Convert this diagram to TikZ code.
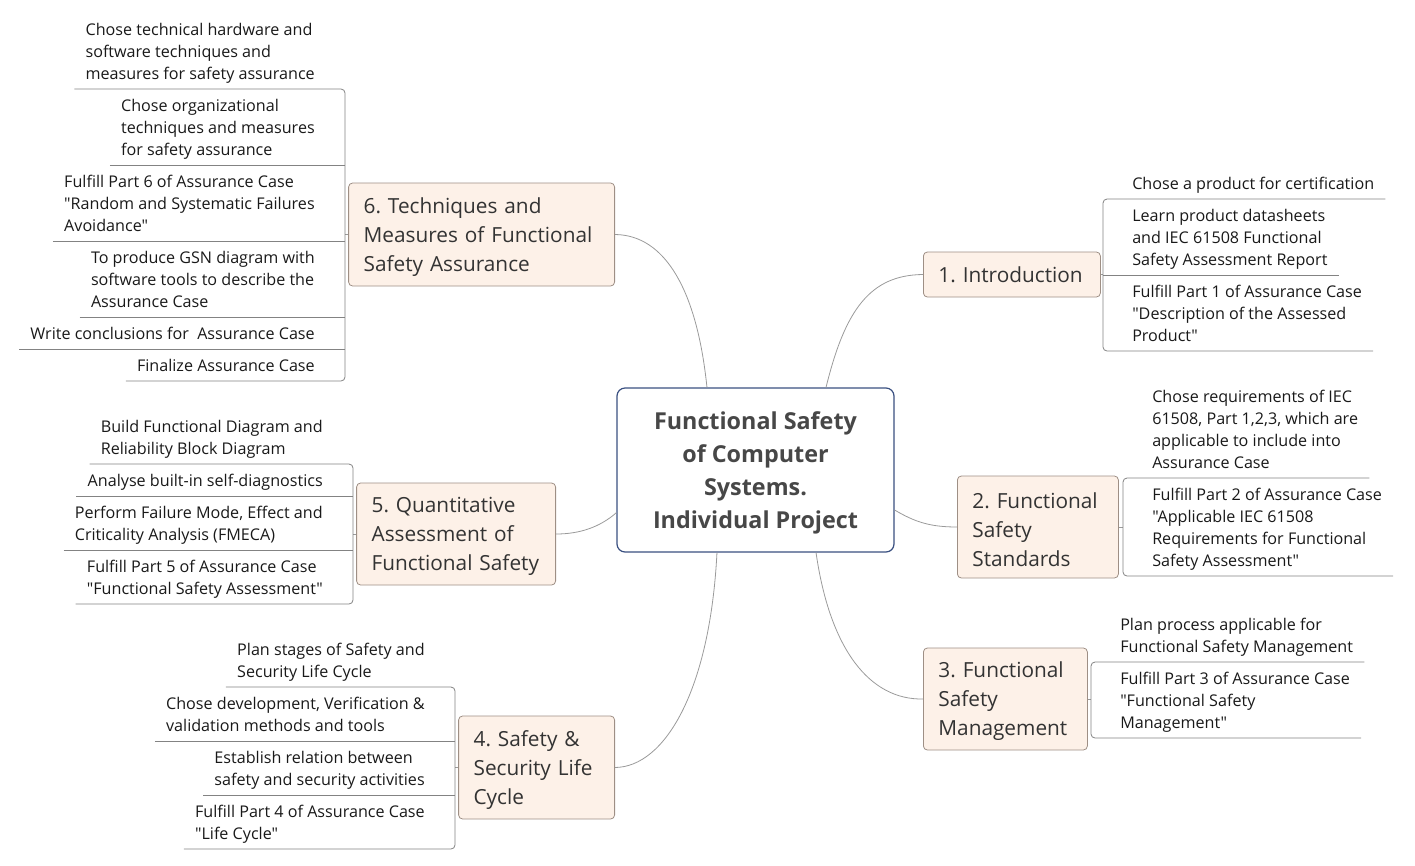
\documentclass[tikz,border=0pt]{standalone}
\usepackage{fontspec}
\newfontfamily\mapfont{Open Sans}
\usepackage{tikz}
\definecolor{hubline}{HTML}{3A5081}
\definecolor{topicfill}{HTML}{FDF1E8}
\definecolor{topicline}{HTML}{9E8F85}
\definecolor{wire}{HTML}{9A9A9A}
\definecolor{ink}{HTML}{333333}
\tikzset{
hub/.style={draw=hubline, line width=0.9pt, rounded corners=6pt, fill=white, align=center, minimum width=207.75pt, minimum height=123pt, text depth=0pt, text=ink!90, font=\mapfont\frenchspacing\fontsize{17.5}{24.75}\selectfont\bfseries},
topic/.style={draw=topicline, fill=topicfill, line width=0.6pt, rounded corners=3pt, align=left, inner xsep=11.25pt, inner ysep=0pt, text=ink, font=\mapfont\frenchspacing\fontsize{15.6}{21.75}\selectfont},
tall/.style={text height=15.4pt},
subr/.style={anchor=south west, align=left, inner xsep=8.25pt, inner ysep=3pt, text depth=3.9pt, text=black!90, font=\mapfont\frenchspacing\fontsize{12.1}{16.5}\selectfont},
subl/.style={subr, anchor=south east},
limb/.style={draw=wire, line width=0.6pt},
twig/.style={draw=wire!85!black, line width=0.6pt, rounded corners=3pt}
}
\begin{document}
\begin{tikzpicture}[x=0.75pt,y=-0.75pt]
\useasboundingbox (0,0) rectangle (1415,865);
\node[hub] (hub) at (755.5,470) {Functional Safety\\of Computer\\Systems.\\Individual Project};

\node[topic, anchor=west, text width=110.25pt, minimum height=33.75pt] (b1) at (923,274.5) {1. Introduction};
\node[topic, tall, anchor=west, text width=98.25pt, minimum height=76.5pt] (b2) at (957,527) {2. Functional\\Safety\\Standards};
\node[topic, tall, anchor=west, text width=100.5pt, minimum height=76.5pt] (b3) at (923,699) {3. Functional\\Safety\\Management};
\node[topic, tall, anchor=east, text width=94.5pt, minimum height=77.25pt] (b4) at (615,767.5) {4. Safety \&\\Security Life\\Cycle};
\node[topic, tall, anchor=east, text width=126.75pt, minimum height=76.5pt] (b5) at (556,534) {5. Quantitative\\Assessment of\\Functional Safety};
\node[topic, tall, anchor=east, text width=177pt, minimum height=77.25pt] (b6) at (615,234.5) {6. Techniques and\\Measures of Functional\\Safety Assurance};

\draw[limb] ([xshift=-36.4pt]hub.north) .. controls (697,290) and (665,235) .. (b6.east);
\draw[limb] ([xshift=52.9pt]hub.north) .. controls (845,310) and (870,275) .. (b1.west);
\draw[limb] ([yshift=-30pt]hub.east) .. controls (915,522) and (930,527) .. (b2.west);
\draw[limb] ([xshift=45.4pt]hub.south) .. controls (830,650) and (870,700) .. (b3.west);
\draw[limb] ([xshift=-28.9pt]hub.south) .. controls (710,690) and (665,767) .. (b4.east);
\draw[limb] ([yshift=-32pt]hub.west) .. controls (600,527) and (580,534) .. (b5.east);

\node[subr] (t11) at (1121,199) {Chose a product for certification};
\node[subr] (t12) at (1121,275) {Learn product datasheets\\and IEC 61508 Functional\\Safety Assessment Report};
\node[subr] (t13) at (1121,351) {Fulfill Part 1 of Assurance Case\\"Description of the Assessed\\Product"};
\coordinate (k1) at (1103,274.5);
\draw[limb] (b1.east) -- (k1);
\draw[twig] (t11.south east) -- (t11.south west -| k1) -- (t13.south west -| k1) -- (t13.south east);
\draw[twig] (t12.south west -| k1) -- (t12.south east);

\node[subr] (t21) at (1141,478) {Chose requirements of IEC\\61508, Part 1,2,3, which are\\applicable to include into\\Assurance Case};
\node[subr] (t22) at (1141,576) {Fulfill Part 2 of Assurance Case\\"Applicable IEC 61508\\Requirements for Functional\\Safety Assessment"};
\coordinate (k2) at (1123,527);
\draw[limb] (b2.east) -- (k2);
\draw[twig] (t21.south east) -- (t21.south west -| k2) -- (t22.south west -| k2) -- (t22.south east);

\node[subr] (t31) at (1109,662) {Plan process applicable for\\Functional Safety Management};
\node[subr] (t32) at (1109,738) {Fulfill Part 3 of Assurance Case\\"Functional Safety\\Management"};
\coordinate (k3) at (1091,699);
\draw[limb] (b3.east) -- (k3);
\draw[twig] (t31.south east) -- (t31.south west -| k3) -- (t32.south west -| k3) -- (t32.south east);

\node[subl] (t41) at (436,687) {Plan stages of Safety and\\Security Life Cycle};
\node[subl] (t42) at (436,741) {Chose development, Verification \&\\validation methods and tools};
\node[subl] (t43) at (436,795) {Establish relation between\\safety and security activities};
\node[subl] (t44) at (436,849) {Fulfill Part 4 of Assurance Case\\"Life Cycle"};
\coordinate (k4) at (455,767.5);
\draw[limb] (b4.west) -- (k4);
\draw[twig] (t41.south west) -- (t41.south east -| k4) -- (t44.south east -| k4) -- (t44.south west);
\draw[twig] (t42.south west) -- (t42.south east -| k4);
\draw[twig] (t43.south west) -- (t43.south east -| k4);

\node[subl] (t51) at (334,464) {Build Functional Diagram and\\Reliability Block Diagram};
\node[subl] (t52) at (334,496) {Analyse built-in self-diagnostics};
\node[subl] (t53) at (334,550) {Perform Failure Mode, Effect and\\Criticality Analysis (FMECA)};
\node[subl] (t54) at (334,604) {Fulfill Part 5 of Assurance Case\\"Functional Safety Assessment"};
\coordinate (k5) at (353,534);
\draw[limb] (b5.west) -- (k5);
\draw[twig] (t51.south west) -- (t51.south east -| k5) -- (t54.south east -| k5) -- (t54.south west);
\draw[twig] (t52.south west) -- (t52.south east -| k5);
\draw[twig] (t53.south west) -- (t53.south east -| k5);

\node[subl] (t61) at (326,89) {Chose technical hardware and\\software techniques and\\measures for safety assurance};
\node[subl] (t62) at (326,165) {Chose organizational\\techniques and measures\\for safety assurance};
\node[subl] (t63) at (326,241) {Fulfill Part 6 of Assurance Case\\"Random and Systematic Failures\\Avoidance"};
\node[subl] (t64) at (326,317) {To produce GSN diagram with\\software tools to describe the\\Assurance Case};
\node[subl] (t65) at (326,349) {Write conclusions for\ \ Assurance Case};
\node[subl] (t66) at (326,381) {Finalize Assurance Case};
\coordinate (k6) at (345,234.5);
\draw[limb] (b6.west) -- (k6);
\draw[twig] (t61.south west) -- (t61.south east -| k6) -- (t66.south east -| k6) -- (t66.south west);
\draw[twig] (t62.south west) -- (t62.south east -| k6);
\draw[twig] (t63.south west) -- (t63.south east -| k6);
\draw[twig] (t64.south west) -- (t64.south east -| k6);
\draw[twig] (t65.south west) -- (t65.south east -| k6);
\end{tikzpicture}
\end{document}
